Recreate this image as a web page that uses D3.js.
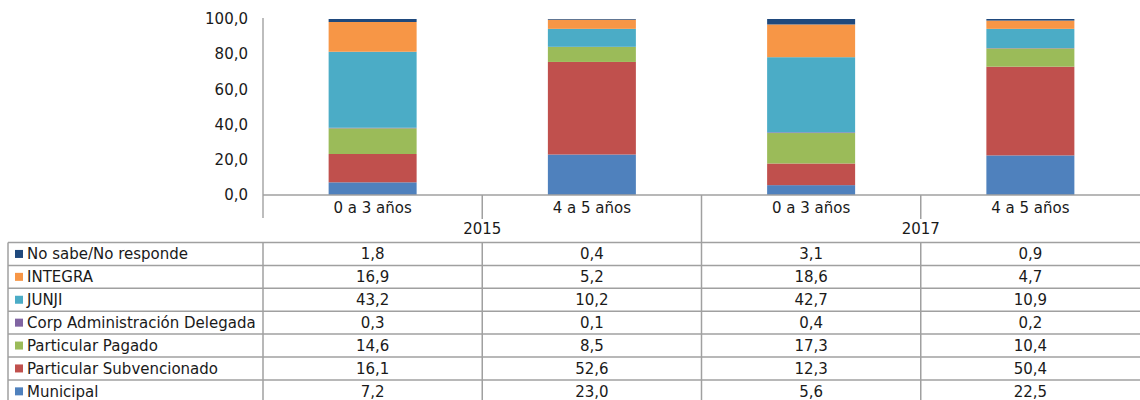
<!DOCTYPE html>
<html><head><meta charset="utf-8">
<script src="https://cdn.jsdelivr.net/npm/d3@7"></script>
<style>
html,body{margin:0;padding:0;background:#fff;}
svg{display:block;font-family:"DejaVu Sans",Verdana,sans-serif;}
</style></head>
<body><svg id="c" width="1140" height="400"></svg>
<script>
const categories = ["0 a 3 años","4 a 5 años","0 a 3 años","4 a 5 años"];
const years = ["2015","2017"];
const seriesNames = ["No sabe/No responde","INTEGRA","JUNJI","Corp Administración Delegada","Particular Pagado","Particular Subvencionado","Municipal"];
const seriesColors = ["#1F497D","#F79646","#4BACC6","#8064A2","#9BBB59","#C0504D","#4F81BD"];
const noSabe     = [1.8, 0.4, 3.1, 0.9];
const integra    = [16.9, 5.2, 18.6, 4.7];
const junji      = [43.2, 10.2, 42.7, 10.9];
const corp       = [0.3, 0.1, 0.4, 0.2];
const partPagado = [14.6, 8.5, 17.3, 10.4];
const partSubv   = [16.1, 52.6, 12.3, 50.4];
const municipal  = [7.2, 23.0, 5.6, 22.5];
const yTicks = [0,20,40,60,80,100];

(function(){
const seriesValues = [noSabe, integra, junji, corp, partPagado, partSubv, municipal];
const svg = d3.select("#c");
const fmt = v => d3.format(".1f")(v).replace(".", ",");
const lineCol = "#a0a0a0";
const textCol = "#1a1a1a";
const fs = 15;

const x = d3.scaleBand().domain(d3.range(categories.length)).range([263,1140]);
const y = d3.scaleLinear().domain([0,100]).range([195,19]);
const barW = 88;

const stackOrder = seriesNames.map((n,i)=>i).reverse();
const rows = categories.map((c,ci)=>{
  const o = {ci};
  seriesNames.forEach((n,si)=>o[n]=seriesValues[si][ci]);
  return o;
});
const stack = d3.stack().keys(stackOrder.map(i=>seriesNames[i]))(rows);
stack.forEach(layer=>{
  const si = seriesNames.indexOf(layer.key);
  svg.append("g").selectAll("rect").data(layer).join("rect")
    .attr("x", d=>x(d.data.ci)+x.bandwidth()/2-barW/2)
    .attr("width", barW)
    .attr("y", d=>y(Math.min(d[1],100)))
    .attr("height", d=>Math.max(0, y(d[0])-y(Math.min(d[1],100))))
    .attr("fill", seriesColors[si]);
});

const ya = svg.append("g");
ya.append("line").attr("x1",263).attr("x2",263).attr("y1",y(100)-1).attr("y2",218)
  .attr("stroke","#bdbdbd").attr("stroke-width",2);
ya.selectAll("text").data(yTicks).join("text")
  .attr("x",248).attr("y",d=>y(d)).attr("dy","0.35em")
  .attr("text-anchor","end").attr("font-size",fs).attr("fill",textCol)
  .text(fmt);

const g = svg.append("g");
g.append("line").attr("x1",263).attr("x2",1140).attr("y1",195).attr("y2",195)
  .attr("stroke",lineCol).attr("stroke-width",1.5);
categories.forEach((c,i)=>{
  if(i>0){
    const full = i%2===0;
    g.append("line").attr("x1",x(i)).attr("x2",x(i)).attr("y1",195).attr("y2",full?242:219)
      .attr("stroke",lineCol).attr("stroke-width",1.5);
  }
});
g.selectAll("text.cat").data(categories).join("text").attr("class","cat")
  .attr("x",(d,i)=>x(i)+x.bandwidth()/2).attr("y",208).attr("dy","0.35em")
  .attr("text-anchor","middle").attr("font-size",fs).attr("fill",textCol).text(d=>d);
g.selectAll("text.yr").data(years).join("text").attr("class","yr")
  .attr("x",(d,i)=>x(i*2)+x.bandwidth()).attr("y",229).attr("dy","0.35em")
  .attr("text-anchor","middle").attr("font-size",fs).attr("fill",textCol).text(d=>d);

const tTop = 242.5, rh = 22.9;
const ty = d3.scaleBand().domain(seriesNames).range([tTop, tTop+rh*seriesNames.length]);
const t = svg.append("g");
seriesNames.forEach((n,i)=>{
  t.append("line").attr("x1",8).attr("x2",1140).attr("y1",ty(n)).attr("y2",ty(n))
    .attr("stroke",lineCol).attr("stroke-width",1.5);
});
t.append("line").attr("x1",8).attr("x2",1140).attr("y1",tTop+rh*7).attr("y2",tTop+rh*7)
  .attr("stroke",lineCol).attr("stroke-width",1.5);
[8,263,x(1),x(2),x(3)].forEach(xx=>{
  t.append("line").attr("x1",xx).attr("x2",xx).attr("y1",tTop).attr("y2",tTop+rh*7)
    .attr("stroke",lineCol).attr("stroke-width",1.5);
});
seriesNames.forEach((n,si)=>{
  const cy = ty(n)+rh/2;
  t.append("rect").attr("x",15).attr("y",cy-4).attr("width",8).attr("height",8).attr("fill",seriesColors[si]);
  t.append("text").attr("x",27).attr("y",cy).attr("dy","0.35em").attr("font-size",fs)
    .attr("fill",textCol).text(n);
  seriesValues[si].forEach((v,ci)=>{
    t.append("text").attr("x",x(ci)+x.bandwidth()/2).attr("y",cy).attr("dy","0.35em")
      .attr("text-anchor","middle").attr("font-size",fs).attr("fill",textCol).text(fmt(v));
  });
});
})();
</script></body></html>
